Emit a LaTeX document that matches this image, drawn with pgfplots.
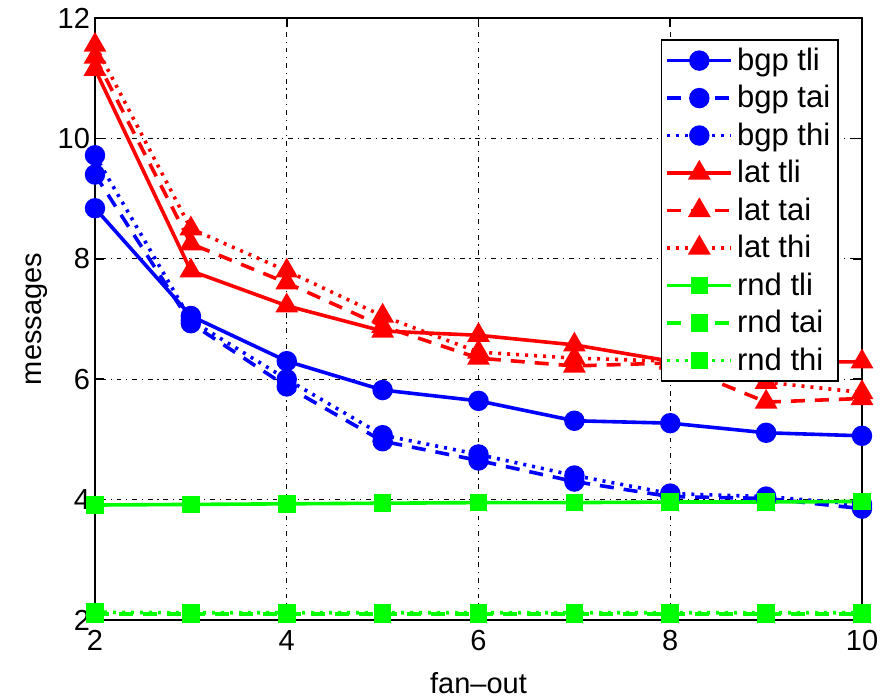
\documentclass[border=0pt]{standalone}
\usepackage{pgfplots}
\pgfplotsset{compat=1.18}
\usepackage{fontspec}
\setmainfont{Liberation Sans}
\begin{document}
\begin{tikzpicture}
\begin{axis}[
  name=ax,
  scale only axis,
  width=383.5pt, height=301pt,
  xmin=2, xmax=10, ymin=2, ymax=12,
  xtick={2,4,6,8,10}, ytick={2,4,6,8,10,12},
  grid=major,
  major grid style={black, line width=0.6pt, dash pattern=on 0.6pt off 2.4pt on 2.4pt off 2.4pt},
  axis line style={black, line width=0.9pt},
  tick style={black, line width=0.8pt},
  tick align=inside,
  xtick pos=both, ytick pos=both,
  /pgf/number format/assume math mode=true,
  ticklabel style={font=\fontsize{14.5}{16}\selectfont},
  yticklabel style={xshift=1pt},
  xticklabel style={yshift=-1.5pt},
  xlabel={fan--out}, ylabel={messages},
  label style={font=\fontsize{14.5}{16}\selectfont},
  xlabel style={yshift=-4pt},
  ylabel style={yshift=-2pt},
  legend cell align=left,
  legend style={font=\fontsize{15.5}{17}\selectfont, draw=black, line width=0.8pt, inner sep=2pt, row sep=2pt, at={(0.97,0.965)}, anchor=north east},
  legend image code/.code={\draw[#1, mark repeat=2, mark phase=2] plot coordinates {(0pt,0pt) (16pt,0pt) (32pt,0pt)};},
  every axis plot/.append style={line width=1.8pt, mark size=4.2pt, mark options={solid}},
]
% bgp
\addplot[blue, mark=*] coordinates {(2,8.84) (3,7.05) (4,6.30) (5,5.82) (6,5.64) (7,5.31) (8,5.27) (9,5.11) (10,5.06)};
\addlegendentry{bgp tli}
\addplot[blue, mark=*, dash pattern=on 7pt off 5pt] coordinates {(2,9.40) (3,6.93) (4,5.88) (5,4.97) (6,4.65) (7,4.30) (8,4.05) (9,4.02) (10,3.85)};
\addlegendentry{bgp tai}
\addplot[blue, mark=*, dash pattern=on 1.5pt off 3pt] coordinates {(2,9.72) (3,6.98) (4,6.00) (5,5.07) (6,4.75) (7,4.40) (8,4.10) (9,4.05) (10,3.92)};
\addlegendentry{bgp thi}
% lat
\addplot[red, mark=triangle*, mark size=4.8pt] coordinates {(2,11.15) (3,7.80) (4,7.22) (5,6.80) (6,6.73) (7,6.57) (8,6.30) (9,6.28) (10,6.29)};
\addlegendentry{lat tli}
\addplot[red, mark=triangle*, mark size=4.8pt, dash pattern=on 7pt off 5pt] coordinates {(2,11.35) (3,8.25) (4,7.60) (5,6.88) (6,6.35) (7,6.22) (8,6.27) (9,5.62) (10,5.68)};
\addlegendentry{lat tai}
\addplot[red, mark=triangle*, mark size=4.8pt, dash pattern=on 1.5pt off 3pt] coordinates {(2,11.55) (3,8.50) (4,7.80) (5,7.05) (6,6.45) (7,6.35) (8,6.30) (9,5.95) (10,5.78)};
\addlegendentry{lat thi}
% rnd
\addplot[green, mark=square*, mark size=3.5pt] coordinates {(2,3.91) (3,3.92) (4,3.93) (5,3.94) (6,3.95) (7,3.95) (8,3.96) (9,3.96) (10,3.97)};
\addlegendentry{rnd tli}
\addplot[green, mark=square*, mark size=3.5pt, dash pattern=on 7pt off 5pt] coordinates {(2,2.10) (3,2.10) (4,2.10) (5,2.10) (6,2.10) (7,2.10) (8,2.10) (9,2.10) (10,2.10)};
\addlegendentry{rnd tai}
\addplot[green, mark=square*, mark size=3.5pt, dash pattern=on 1.5pt off 3pt] coordinates {(2,2.13) (3,2.12) (4,2.12) (5,2.12) (6,2.12) (7,2.12) (8,2.12) (9,2.12) (10,2.12)};
\addlegendentry{rnd thi}
\end{axis}
\pgfresetboundingbox
\path ([shift={(-47.5pt,-39pt)}]ax.south west) rectangle ([shift={(15pt,9pt)}]ax.north east);
\end{tikzpicture}
\end{document}
